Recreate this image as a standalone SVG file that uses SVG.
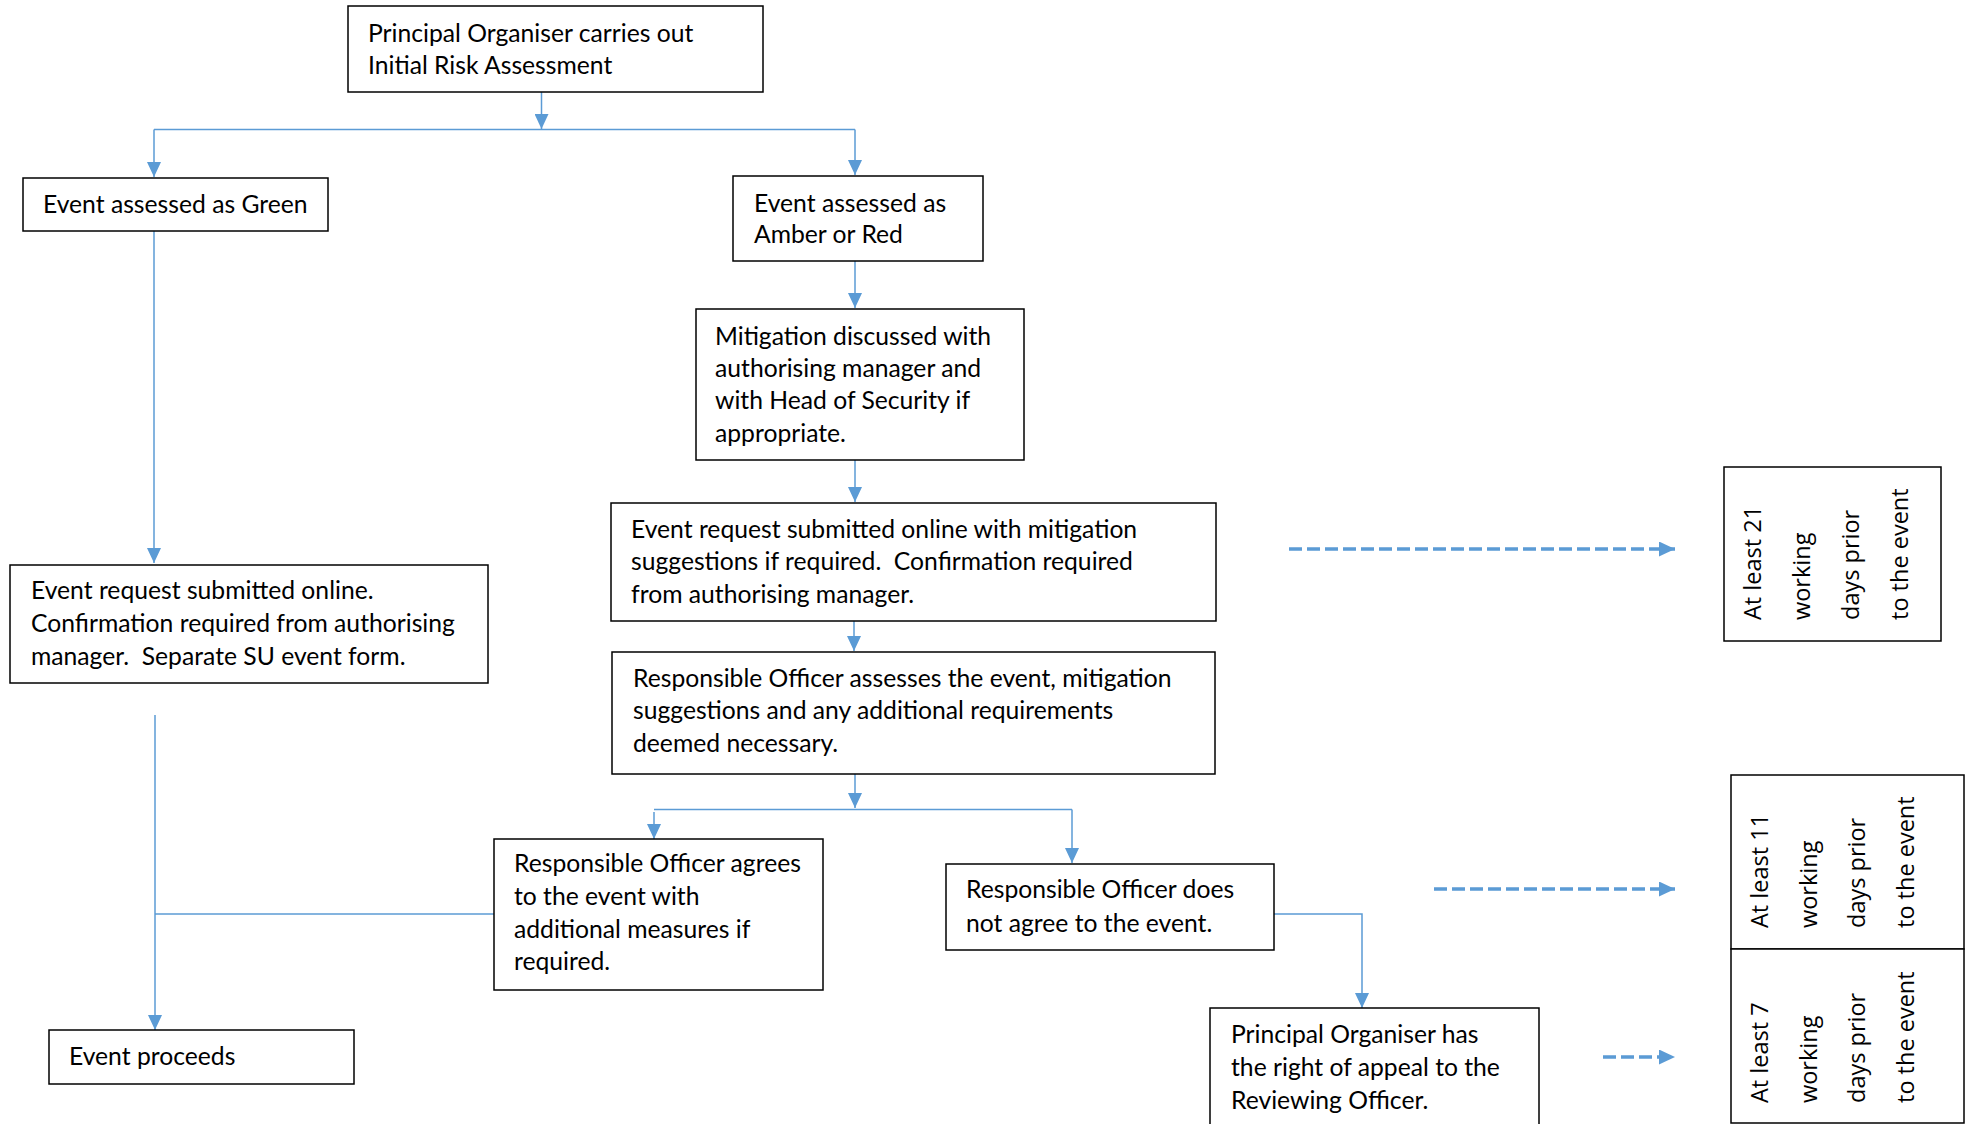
<svg xmlns="http://www.w3.org/2000/svg" width="1970" height="1124" viewBox="0 0 1970 1124">
<style>
.box{fill:#fff;stroke:#000;stroke-width:1.5}
.t{font-family:Lato,"Liberation Sans",sans-serif;font-size:24.7px;fill:#000}
.r{font-family:"Open Sans","Noto Sans",sans-serif;font-size:23.5px;fill:#000}
.c{fill:none;stroke:#5B9BD5;stroke-width:1.5}
.d{fill:none;stroke:#5B9BD5;stroke-width:3.5;stroke-dasharray:13 5}
</style>
<defs>
<marker id="ah" markerUnits="userSpaceOnUse" markerWidth="15" markerHeight="14" refX="15" refY="7" orient="auto"><path d="M0,0 L15,7 L0,14 z" fill="#5B9BD5"/></marker>
<marker id="ahd" markerUnits="userSpaceOnUse" markerWidth="16" markerHeight="15" refX="16" refY="7.5" orient="auto"><path d="M0,0 L16,7.5 L0,15 z" fill="#5B9BD5"/></marker>
</defs>
<rect width="1970" height="1124" fill="#fff"/>
<g id="connectors">
<path class="c" d="M541.5,92 V129" marker-end="url(#ah)"/>
<path class="c" d="M154,129.5 H855"/>
<path class="c" d="M154,129.5 V177" marker-end="url(#ah)"/>
<path class="c" d="M855,129.5 V175" marker-end="url(#ah)"/>
<path class="c" d="M154,231 V563" marker-end="url(#ah)"/>
<path class="c" d="M155,715 V1030" marker-end="url(#ah)"/>
<path class="c" d="M155,914 H494"/>
<path class="c" d="M855,261 V308" marker-end="url(#ah)"/>
<path class="c" d="M855,460 V502" marker-end="url(#ah)"/>
<path class="c" d="M854,621 V651" marker-end="url(#ah)"/>
<path class="c" d="M855,774 V808" marker-end="url(#ah)"/>
<path class="c" d="M654,809.5 H1072"/>
<path class="c" d="M654,812 V839" marker-end="url(#ah)"/>
<path class="c" d="M1072,809.5 V863" marker-end="url(#ah)"/>
<path class="c" d="M1274,914 H1362 V1008" marker-end="url(#ah)"/>
<path class="d" d="M1289,549 H1675" marker-end="url(#ahd)"/>
<path class="d" d="M1434,889 H1675" marker-end="url(#ahd)"/>
<path class="d" d="M1603,1057 H1675" marker-end="url(#ahd)"/>
</g>
<g id="n-initial">
<rect class="box" x="348" y="6" width="415" height="86"/>
<text class="t" x="368" y="42">Principal Organiser carries out</text>
<text class="t" x="368" y="74">Initial Risk Assessment</text>
</g>
<g id="n-green">
<rect class="box" x="23" y="178" width="305" height="53"/>
<text class="t" x="43" y="213">Event assessed as Green</text>
</g>
<g id="n-amber">
<rect class="box" x="733" y="176" width="250" height="85"/>
<text class="t" x="754" y="212">Event assessed as</text>
<text class="t" x="754" y="243">Amber or Red</text>
</g>
<g id="n-mitigation">
<rect class="box" x="696" y="309" width="328" height="151"/>
<text class="t" x="715" y="345">Mitigation discussed with</text>
<text class="t" x="715" y="377">authorising manager and</text>
<text class="t" x="715" y="409">with Head of Security if</text>
<text class="t" x="715" y="442">appropriate.</text>
</g>
<g id="n-request-green">
<rect class="box" x="10" y="565" width="478" height="118"/>
<text class="t" x="31" y="599">Event request submitted online.</text>
<text class="t" x="31" y="632">Confirmation required from authorising</text>
<text class="t" x="31" y="665">manager.&#160; Separate SU event form.</text>
</g>
<g id="n-request-amber">
<rect class="box" x="611" y="503" width="605" height="118"/>
<text class="t" x="631" y="538">Event request submitted online with mitigation</text>
<text class="t" x="631" y="570">suggestions if required.&#160; Confirmation required</text>
<text class="t" x="631" y="603">from authorising manager.</text>
</g>
<g id="n-assess">
<rect class="box" x="612" y="652" width="603" height="122"/>
<text class="t" x="633" y="687">Responsible Officer assesses the event, mitigation</text>
<text class="t" x="633" y="719">suggestions and any additional requirements</text>
<text class="t" x="633" y="752">deemed necessary.</text>
</g>
<g id="n-agree">
<rect class="box" x="494" y="839" width="329" height="151"/>
<text class="t" x="514" y="872">Responsible Officer agrees</text>
<text class="t" x="514" y="905">to the event with</text>
<text class="t" x="514" y="938">additional measures if</text>
<text class="t" x="514" y="970">required.</text>
</g>
<g id="n-disagree">
<rect class="box" x="946" y="864" width="328" height="86"/>
<text class="t" x="966" y="898">Responsible Officer does</text>
<text class="t" x="966" y="932">not agree to the event.</text>
</g>
<g id="n-proceeds">
<rect class="box" x="49" y="1030" width="305" height="54"/>
<text class="t" x="69" y="1065">Event proceeds</text>
</g>
<g id="n-appeal">
<rect class="box" x="1210" y="1008" width="329" height="118"/>
<text class="t" x="1231" y="1043">Principal Organiser has</text>
<text class="t" x="1231" y="1076">the right of appeal to the</text>
<text class="t" x="1231" y="1109">Reviewing Officer.</text>
</g>
<g id="n-21days">
<rect class="box" x="1724" y="467" width="217" height="174"/>
<text class="r" transform="rotate(-90 1761 620)" x="1761" y="620">At least 21</text>
<text class="r" transform="rotate(-90 1810 620)" x="1810" y="620">working</text>
<text class="r" transform="rotate(-90 1859 620)" x="1859" y="620">days prior</text>
<text class="r" transform="rotate(-90 1908 620)" x="1908" y="620">to the event</text>
</g>
<g id="n-11days">
<rect class="box" x="1731" y="775" width="233" height="174"/>
<text class="r" transform="rotate(-90 1768 928)" x="1768" y="928">At least 11</text>
<text class="r" transform="rotate(-90 1817 928)" x="1817" y="928">working</text>
<text class="r" transform="rotate(-90 1865 928)" x="1865" y="928">days prior</text>
<text class="r" transform="rotate(-90 1914 928)" x="1914" y="928">to the event</text>
</g>
<g id="n-7days">
<rect class="box" x="1731" y="949" width="233" height="174"/>
<text class="r" transform="rotate(-90 1768 1103)" x="1768" y="1103">At least 7</text>
<text class="r" transform="rotate(-90 1817 1103)" x="1817" y="1103">working</text>
<text class="r" transform="rotate(-90 1865 1103)" x="1865" y="1103">days prior</text>
<text class="r" transform="rotate(-90 1914 1103)" x="1914" y="1103">to the event</text>
</g>
</svg>
